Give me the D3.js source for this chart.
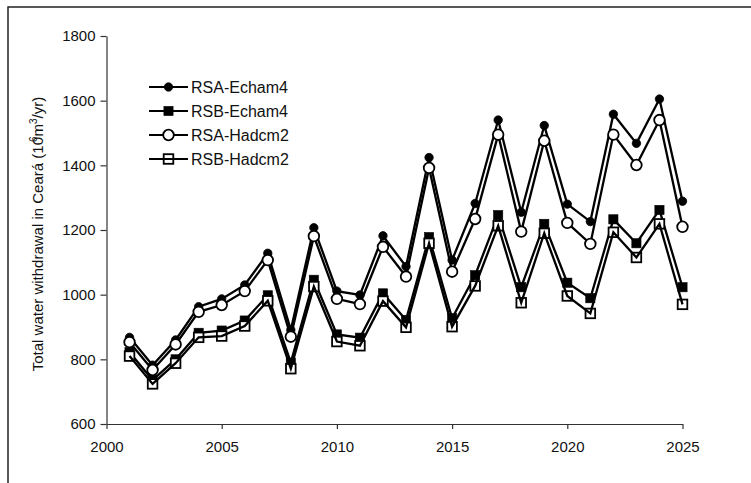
<!DOCTYPE html>
<html>
<head>
<meta charset="utf-8">
<script src="https://cdn.jsdelivr.net/npm/d3@7"></script>
<style>
  html, body { margin: 0; padding: 0; background: #fff; }
  svg { display: block; font-family: Arial, "Liberation Sans", sans-serif; }
</style>
</head>
<body>
<svg id="chart" width="751" height="483"></svg>
<script>
// Years simulated
const years = d3.range(2001, 2026);

// Total water withdrawal (10^6 m3/yr) per scenario
const rsaEcham4 = [868, 782, 860, 963, 987, 1030, 1128, 891, 1207, 1011, 999, 1182, 1087,
                   1424, 1107, 1282, 1540, 1255, 1523, 1280, 1226, 1558, 1468, 1605, 1289];
const rsbEcham4 = [822, 736, 800, 882, 889, 920, 998, 790, 1046, 877, 867, 1004, 922,
                   1178, 927, 1060, 1246, 1023, 1219, 1037, 989, 1233, 1159, 1262, 1023];
const rsaHadcm2 = [853, 767, 846, 947, 968, 1011, 1107, 870, 1181, 987, 971, 1148, 1056,
                   1392, 1071, 1234, 1495, 1195, 1476, 1222, 1157, 1495, 1401, 1540, 1210];
const rsbHadcm2 = [810, 724, 788, 868, 872, 903, 981, 771, 1025, 855, 842, 980, 899,
                   1159, 901, 1027, 1213, 975, 1190, 996, 942, 1193, 1115, 1219, 970];

const seriesNames = ["RSA-Echam4", "RSB-Echam4", "RSA-Hadcm2", "RSB-Hadcm2"];
const xTicks = [2000, 2005, 2010, 2015, 2020, 2025];
const yTicks = [600, 800, 1000, 1200, 1400, 1600, 1800];

const series = [
  { name: seriesNames[0], values: rsaEcham4, shape: "circle", filled: true,  lineOver: false },
  { name: seriesNames[1], values: rsbEcham4, shape: "square", filled: true,  lineOver: false },
  { name: seriesNames[2], values: rsaHadcm2, shape: "circle", filled: false, lineOver: false },
  { name: seriesNames[3], values: rsbHadcm2, shape: "square", filled: false, lineOver: true }
];

const svg = d3.select("#chart");

// outer figure frame
svg.append("rect")
  .attr("x", 8).attr("y", 7)
  .attr("width", 800).attr("height", 520)
  .attr("fill", "none").attr("stroke", "#222").attr("stroke-width", 1.5);

const x = d3.scaleLinear().domain([2000, 2025]).range([106.5, 682.5]);
const y = d3.scaleLinear().domain([600, 1800]).range([424, 36]);

// axes
const yAxis = svg.append("g")
  .attr("transform", `translate(${x(2000)},0)`)
  .call(d3.axisLeft(y).tickValues(yTicks).tickFormat(d3.format("d")).tickSize(6).tickPadding(5).tickSizeOuter(0));
const xAxis = svg.append("g")
  .attr("transform", `translate(0,${y(600)})`)
  .call(d3.axisBottom(x).tickValues(xTicks).tickFormat(d3.format("d")).tickSize(5).tickPadding(12).tickSizeOuter(0));

[xAxis, yAxis].forEach(ax => {
  ax.select(".domain").attr("stroke", "#333").attr("stroke-width", 1.2);
  ax.selectAll(".tick line").attr("stroke", "#333").attr("stroke-width", 1.2);
  ax.selectAll(".tick text")
    .attr("fill", "#111")
    .style("font-size", "15px")
    .style("font-family", "Arial, 'Liberation Sans', sans-serif");
});

// y-axis title
const yTitle = svg.append("text")
  .attr("transform", "translate(43,234) rotate(-90)")
  .attr("text-anchor", "middle")
  .attr("fill", "#111")
  .style("font-size", "15px");
yTitle.append("tspan").text("Total water withdrawal in Ceará (10");
yTitle.append("tspan").attr("dy", -6).attr("dx", -5).style("font-size", "10px").text("6");
yTitle.append("tspan").attr("dy", 6).text("m");
yTitle.append("tspan").attr("dy", -6).style("font-size", "10px").text("3");
yTitle.append("tspan").attr("dy", 6).text("/yr)");

const line = d3.line().x((d, i) => x(years[i])).y(d => y(d));

function drawMarker(sel, s, cx, cy) {
  if (s.shape === "circle") {
    sel.append("circle")
      .attr("cx", cx).attr("cy", cy)
      .attr("r", s.filled ? 4.2 : 5.3)
      .attr("fill", s.filled ? "#000" : "#fff")
      .attr("stroke", "#000").attr("stroke-width", s.filled ? 0.8 : 1.8);
  } else {
    const h = s.filled ? 4.6 : 4.8;
    sel.append("rect")
      .attr("x", cx - h).attr("y", cy - h)
      .attr("width", 2 * h).attr("height", 2 * h)
      .attr("fill", s.filled ? "#000" : "#fff")
      .attr("stroke", "#000").attr("stroke-width", s.filled ? 0.6 : 1.8);
  }
}

function drawLine(s) {
  svg.append("path")
    .datum(s.values)
    .attr("d", line)
    .attr("fill", "none")
    .attr("stroke", "#000")
    .attr("stroke-width", 2.3)
    .attr("stroke-linejoin", "miter");
}

series.forEach(s => {
  if (!s.lineOver) drawLine(s);
  const g = svg.append("g");
  s.values.forEach((v, i) => drawMarker(g, s, x(years[i]), y(v)));
  if (s.lineOver) drawLine(s);
});

// legend
const legendRows = [87, 111, 135, 159];
series.forEach((s, i) => {
  const ly = legendRows[i];
  const g = svg.append("g");
  if (!s.lineOver) {
    g.append("line").attr("x1", 149).attr("x2", 188).attr("y1", ly).attr("y2", ly)
      .attr("stroke", "#000").attr("stroke-width", 2);
  }
  drawMarker(g, s, 168.5, ly);
  if (s.lineOver) {
    g.append("line").attr("x1", 149).attr("x2", 188).attr("y1", ly).attr("y2", ly)
      .attr("stroke", "#000").attr("stroke-width", 2);
  }
  g.append("text")
    .attr("x", 191).attr("y", ly + 5.8)
    .attr("fill", "#111")
    .style("font-size", "16px")
    .text(s.name);
});
</script>
</body>
</html>
